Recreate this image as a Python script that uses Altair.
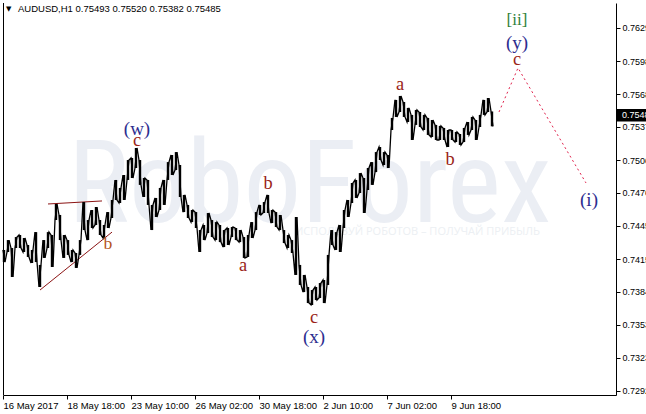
import altair as alt
import pandas as pd

# ---- AUDUSD H1 price history (sampled every 4 bars: high / low) ----
bar_hours = list(range(1, 490, 4))
highs = [
    0.74234, 0.74326, 0.74252, 0.74354, 0.74373, 0.74345, 0.74280, 0.74234, 0.74400, 0.74095,
    0.74326, 0.74400, 0.74373, 0.74661, 0.74559, 0.74373, 0.74326, 0.74234, 0.74206, 0.74326,
    0.74679, 0.74512, 0.74605, 0.74633, 0.74512, 0.74466, 0.74586, 0.74698, 0.74884, 0.74810,
    0.74930, 0.75069, 0.75088, 0.75181, 0.75069, 0.74902, 0.74884, 0.74652, 0.74717, 0.74810,
    0.74884, 0.75050, 0.75116, 0.75143, 0.75023, 0.74745, 0.74652, 0.74605, 0.74586, 0.74419,
    0.74466, 0.74577, 0.74512, 0.74493, 0.74466, 0.74419, 0.74438, 0.74447, 0.74438, 0.74419,
    0.74354, 0.74373, 0.74493, 0.74586, 0.74652, 0.74679, 0.74745, 0.74605, 0.74586, 0.74559,
    0.74419, 0.74373, 0.74326, 0.74540, 0.74095, 0.74002, 0.73890, 0.73862, 0.73890, 0.73927,
    0.73955, 0.74188, 0.74419, 0.74400, 0.74466, 0.74605, 0.74698, 0.74856, 0.74884, 0.74948,
    0.74902, 0.74995, 0.75050, 0.75143, 0.75190, 0.75143, 0.75116, 0.75460, 0.75627, 0.75664,
    0.75608, 0.75553, 0.75488, 0.75534, 0.75515, 0.75488, 0.75460, 0.75441, 0.75395, 0.75386,
    0.75367, 0.75348, 0.75348, 0.75330, 0.75311, 0.75367, 0.75422, 0.75469, 0.75441, 0.75488,
    0.75627, 0.75645, 0.75520,
]
lows = [
    0.74122, 0.74215, 0.73983, 0.74252, 0.74252, 0.74215, 0.74169, 0.74113, 0.74122, 0.73890,
    0.74160, 0.74252, 0.74076, 0.74512, 0.74326, 0.74160, 0.74188, 0.74122, 0.74067, 0.74188,
    0.74419, 0.74326, 0.74438, 0.74466, 0.74373, 0.74345, 0.74438, 0.74531, 0.74698, 0.74670,
    0.74698, 0.74884, 0.74902, 0.74995, 0.74838, 0.74726, 0.74652, 0.74419, 0.74540, 0.74605,
    0.74652, 0.74884, 0.74930, 0.74976, 0.74726, 0.74586, 0.74531, 0.74493, 0.74438, 0.74215,
    0.74326, 0.74391, 0.74354, 0.74326, 0.74307, 0.74261, 0.74280, 0.74354, 0.74326, 0.74307,
    0.74160, 0.74169, 0.74345, 0.74419, 0.74559, 0.74577, 0.74577, 0.74484, 0.74447, 0.74419,
    0.74298, 0.74252, 0.74206, 0.74002, 0.73909, 0.73843, 0.73741, 0.73723, 0.73769, 0.73788,
    0.73741, 0.73909, 0.74280, 0.74234, 0.74215, 0.74438, 0.74540, 0.74670, 0.74717, 0.74763,
    0.74577, 0.74791, 0.74838, 0.74957, 0.75069, 0.75023, 0.74995, 0.75348, 0.75469, 0.75515,
    0.75469, 0.75422, 0.75255, 0.75395, 0.75376, 0.75348, 0.75302, 0.75283, 0.75255, 0.75255,
    0.75255, 0.75190, 0.75255, 0.75236, 0.75209, 0.75236, 0.75302, 0.75348, 0.75255, 0.75376,
    0.75488, 0.75515, 0.75382,
]
last_bar = {"open": 0.75493, "high": 0.75520, "low": 0.75382, "close": 0.75485}

# ---- axes ----
time_labels = ["16 May 2017", "18 May 18:00", "23 May 10:00", "26 May 02:00",
               "30 May 18:00", "2 Jun 10:00", "7 Jun 02:00", "9 Jun 18:00"]
time_ticks = [0, 64, 128, 192, 256, 320, 384, 448]
price_ticks = [0.72925, 0.73231, 0.73538, 0.73844, 0.74150, 0.74457,
               0.74763, 0.75069, 0.75376, 0.75682, 0.75988, 0.76295]

# ---- wave markup ----
wave_text = ["(w)", "c", "b", "a", "b", "c", "(x)", "a", "b", "c", "(y)", "[ii]", "(i)"]
wave_hour = [134, 134, 105, 240, 265, 311, 311, 397, 447, 514, 514, 514, 586]
wave_price = [0.75357, 0.75245, 0.74289, 0.74085, 0.74847, 0.73602, 0.73425,
              0.75766, 0.75069, 0.75998, 0.76156, 0.76369, 0.74698]
wave_kind = ["deg", "minor", "tri", "minor", "minor", "minor", "deg",
             "minor", "minor", "minor", "deg", "top", "deg"]

# triangle boundaries
tri_line = ["upper", "upper", "lower", "lower"]
tri_hour = [45, 99, 37, 109]
tri_price = [0.74661, 0.74689, 0.73862, 0.74400]

# forecast path
fc_hour = [496, 515, 583]
fc_price = [0.75515, 0.75924, 0.74856]

W, H = 613, 392
X_DOM = [0, 613]
Y_DOM = [0.728874, 0.765271]
FONT = "Liberation Sans"

xs = alt.Scale(domain=X_DOM, nice=False, zero=False)
ys = alt.Scale(domain=Y_DOM, nice=False, zero=False)

x_axis = alt.Axis(values=time_ticks, labelExpr="%s[datum.value / 64]" % str(time_labels),
                  labelAlign="left", labelBaseline="top", labelPadding=1, tickSize=4,
                  labelFont=FONT, labelFontSize=9.5, labelColor="black", tickColor="black",
                  domainColor="black", grid=False, title=None, labelOverlap=False,
                  labelFlush=False)
y_axis = alt.Axis(orient="right", values=price_ticks, format=".5f", labelAlign="left",
                  labelBaseline="middle", labelPadding=2, tickSize=4, labelFont=FONT,
                  labelFontSize=9, labelColor="black", tickColor="black",
                  domainColor="black", grid=False, title=None, labelOverlap=False,
                  labelFlush=False)


def X(field):
    return alt.X(field, type="quantitative", scale=xs, axis=x_axis)


def Y(field):
    return alt.Y(field, type="quantitative", scale=ys, axis=y_axis)


bars = pd.DataFrame({"hour": bar_hours, "high": highs, "low": lows})

# zig-zag path through each bar's range
zz_rows = []
for k, (h, hi, lo) in enumerate(zip(bar_hours, highs, lows)):
    pair = [(hi, -1), (lo, 1)] if k % 2 == 0 else [(lo, -1), (hi, 1)]
    for j, (p, dx) in enumerate(pair):
        zz_rows.append({"order": 2 * k + j, "hour": h + dx, "price": p})
zigzag = pd.DataFrame(zz_rows)

# watermark
watermark = alt.Chart(pd.DataFrame({"hour": [65], "price": [0.74493], "t": ["RoboForex"]})).mark_text(
    align="left", baseline="alphabetic", font="Liberation Sans Narrow, Roboto Condensed, sans-serif",
    fontSize=115, color="#ebeef4"
).encode(x=X("hour"), y=Y("price"), text="t:N")

slogan = alt.Chart(pd.DataFrame({"hour": [292], "price": [0.74400], "t": ["ИСПОЛЬЗУЙ РОБОТОВ – ПОЛУЧАЙ ПРИБЫЛЬ"]})).mark_text(
    align="left", baseline="middle", font="Open Sans", fontSize=11, color="#eceff3"
).encode(x=X("hour"), y=Y("price"), text="t:N")

left_border = alt.Chart(pd.DataFrame({"a": [0]})).mark_rule(color="black", strokeWidth=1).encode(
    x=alt.value(0.5), y=alt.value(0), y2=alt.value(H))

triangle = alt.Chart(pd.DataFrame({"line": tri_line, "hour": tri_hour, "price": tri_price})).mark_line(
    color="#8b1414", strokeWidth=1
).encode(x=X("hour"), y=Y("price"), detail="line:N")

candles = alt.Chart(bars).mark_rule(color="black", strokeWidth=2.4).encode(
    x=X("hour"), y=Y("low"), y2="high:Q")

path = alt.Chart(zigzag).mark_line(color="black", strokeWidth=1.3).encode(
    x=X("hour"), y=Y("price"), order="order:Q")

forecast = alt.Chart(pd.DataFrame({"hour": fc_hour, "price": fc_price})).mark_line(
    color="#e0224c", strokeWidth=1, strokeDash=[2, 3]
).encode(x=X("hour"), y=Y("price"))

waves = pd.DataFrame({"t": wave_text, "hour": wave_hour, "price": wave_price, "kind": wave_kind})
wave_marks = alt.Chart(waves).mark_text(font="Liberation Serif", baseline="middle", align="center").encode(
    x=X("hour"), y=Y("price"), text="t:N",
    color=alt.Color("kind:N", legend=None, scale=alt.Scale(
        domain=["deg", "minor", "tri", "top"], range=["#2d2d8f", "#9a2418", "#b4541c", "#2f7f3a"])),
    size=alt.Size("kind:N", legend=None, scale=alt.Scale(
        domain=["deg", "minor", "tri", "top"], range=[19, 17, 17, 19])),
)

title = alt.Chart(pd.DataFrame({"t": ["AUDUSD,H1  0.75493 0.75520 0.75382 0.75485"]})).mark_text(
    align="left", baseline="middle", font=FONT, fontSize=9.5, color="black"
).encode(x=alt.value(15), y=alt.value(6), text="t:N")
title_arrow = alt.Chart(pd.DataFrame({"t": ["▼"]})).mark_text(
    align="left", baseline="middle", font="DejaVu Sans", fontSize=7, color="black"
).encode(x=alt.value(3), y=alt.value(6), text="t:N")

cur = pd.DataFrame({"close": [last_bar["close"]], "top": [last_bar["close"] + 0.00058],
                    "bot": [last_bar["close"] - 0.00058], "t": ["%.5f" % last_bar["close"]]})
cur_box = alt.Chart(cur).mark_rect(color="black").encode(
    x=alt.value(W + 1), x2=alt.value(W + 45), y=Y("top"), y2="bot:Q")
cur_text = alt.Chart(cur).mark_text(align="left", baseline="middle", font=FONT, fontSize=9, color="white").encode(
    x=alt.value(W + 6), y=Y("close"), text="t:N")

chart = alt.layer(
    watermark, slogan, left_border, triangle, candles, path, forecast, wave_marks,
    title_arrow, title, cur_box, cur_text
).properties(
    width=W, height=H,
    autosize=alt.AutoSizeParams(type="none"),
    padding={"left": 3, "top": 3, "right": 30, "bottom": 19},
    background="white",
).configure_view(stroke=None)

chart.save("out.html", embed_options={"renderer": "svg", "actions": False})
